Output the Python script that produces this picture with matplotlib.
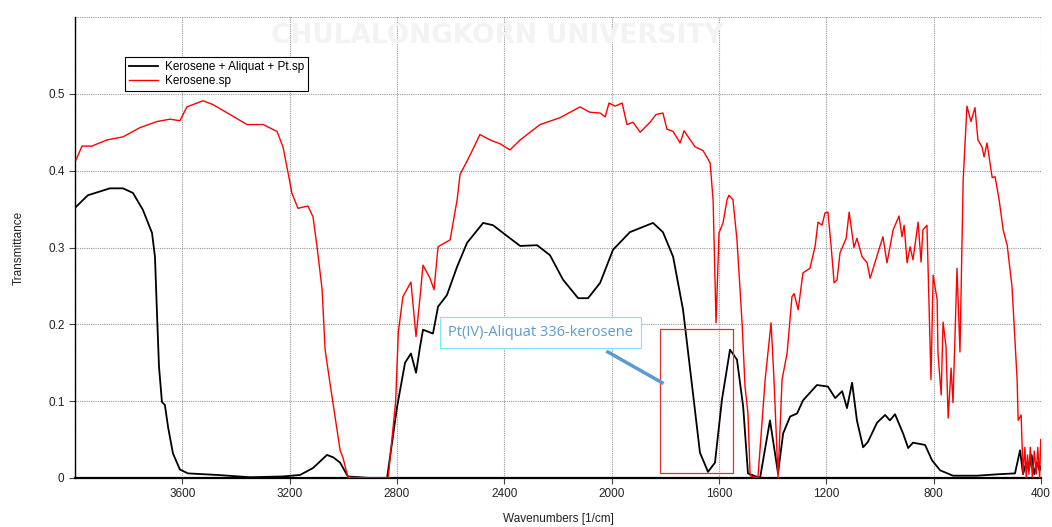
import matplotlib
matplotlib.use("Agg")
import matplotlib.pyplot as plt
from matplotlib.patches import Rectangle

plt.rcParams['font.family'] = ['Liberation Sans', 'DejaVu Sans']

# Kerosene + Aliquat + Pt.sp (black)
wn_black = [3996, 3952, 3870, 3821, 3784, 3747, 3713, 3702, 3694, 3687, 3676, 3665, 3653, 3635,
            3609, 3579, 3471, 3348, 3225, 3161, 3113, 3061, 3038, 3012, 2983, 2900, 2837,
            2800, 2770, 2748, 2729, 2714, 2703, 2666, 2647, 2614, 2576, 2539, 2479, 2442, 2405,
            2341, 2278, 2230, 2181, 2125, 2088, 2043, 1995, 1932, 1846, 1809, 1771, 1734, 1700,
            1671, 1641, 1615, 1589, 1559, 1533, 1510, 1492, 1447, 1410, 1380, 1361, 1335, 1309,
            1287, 1235, 1194, 1167, 1141, 1123, 1104, 1086, 1063, 1045, 1011, 981, 963, 944,
            914, 895, 877, 832, 806, 776, 728, 640, 553, 497, 478, 467, 455, 445, 435, 425,
            415, 405, 400]
t_black = [0.353, 0.368, 0.377, 0.377, 0.371, 0.349, 0.319, 0.288, 0.210, 0.145, 0.099, 0.095,
           0.066, 0.032, 0.011, 0.006, 0.004, 0.001, 0.002, 0.004, 0.013, 0.030, 0.027, 0.020,
           0.002, 0.0, 0.0, 0.092, 0.150, 0.162, 0.137, 0.171, 0.193, 0.188, 0.223, 0.238,
           0.275, 0.306, 0.332, 0.329, 0.319, 0.302, 0.303, 0.290, 0.258, 0.234, 0.234, 0.254,
           0.297, 0.320, 0.332, 0.320, 0.288, 0.219, 0.119, 0.033, 0.008, 0.020, 0.102, 0.167,
           0.154, 0.093, 0.006, 0.0, 0.075, 0.006, 0.058, 0.080, 0.084, 0.101, 0.121, 0.119,
           0.104, 0.113, 0.091, 0.124, 0.075, 0.040, 0.047, 0.072, 0.082, 0.075, 0.083, 0.058,
           0.039, 0.046, 0.043, 0.023, 0.010, 0.003, 0.003, 0.005, 0.006, 0.036, 0.005, 0.020,
           0.010, 0.030, 0.005, 0.020, 0.010, 0.015]

# Kerosene.sp (red)
wn_red = [3996, 3974, 3937, 3881, 3821, 3758, 3694, 3646, 3609, 3583, 3523, 3486, 3422, 3359,
          3299, 3247, 3225, 3203, 3192, 3169, 3132, 3113, 3098, 3079, 3068, 3050, 3031, 3012,
          3001, 2983, 2900, 2833, 2805, 2795, 2778, 2748, 2729, 2714, 2703, 2677, 2662, 2647,
          2602, 2576, 2565, 2528, 2491, 2453, 2416, 2379, 2341, 2267, 2192, 2118, 2081, 2043,
          2024, 2010, 1987, 1961, 1943, 1920, 1894, 1857, 1835, 1809, 1794, 1771, 1745, 1730,
          1715, 1689, 1659, 1633, 1622, 1611, 1600, 1585, 1570, 1563, 1548, 1533, 1514, 1503,
          1492, 1484, 1455, 1428, 1406, 1395, 1380, 1365, 1346, 1328, 1320, 1305, 1287, 1261,
          1242, 1231, 1216, 1205, 1194, 1182, 1171, 1160, 1149, 1126, 1115, 1097, 1086, 1067,
          1048, 1037, 1026, 1007, 989, 974, 951, 929, 918, 910, 899, 888, 877, 858, 847, 840,
          825, 821, 810, 802, 787, 784, 772, 765, 754, 746, 735, 728, 713, 702, 690, 676, 661,
          646, 635, 620, 612, 601, 582, 571, 556, 541, 526, 508, 489, 485, 474, 467, 460, 455,
          450, 445, 440, 432, 425, 418, 412, 405, 401]
t_red = [0.414, 0.432, 0.432, 0.440, 0.444, 0.456, 0.464, 0.467, 0.465, 0.483, 0.491, 0.486,
         0.473, 0.460, 0.460, 0.451, 0.431, 0.392, 0.371, 0.351, 0.354, 0.340, 0.301, 0.245,
         0.167, 0.124, 0.080, 0.036, 0.026, 0.001, 0.0, 0.0, 0.100, 0.190, 0.236, 0.255, 0.184,
         0.236, 0.277, 0.260, 0.245, 0.301, 0.310, 0.362, 0.395, 0.420, 0.447, 0.440, 0.435,
         0.427, 0.440, 0.460, 0.469, 0.483, 0.476, 0.475, 0.470, 0.488, 0.484, 0.488, 0.460,
         0.463, 0.450, 0.463, 0.473, 0.475, 0.454, 0.451, 0.436, 0.452, 0.444, 0.431, 0.426,
         0.410, 0.362, 0.202, 0.319, 0.332, 0.362, 0.368, 0.362, 0.310, 0.202, 0.119, 0.084,
         0.003, 0.0, 0.128, 0.202, 0.128, 0.0, 0.128, 0.163, 0.236, 0.240, 0.219, 0.267, 0.273,
         0.301, 0.333, 0.329, 0.345, 0.346, 0.301, 0.254, 0.258, 0.293, 0.312, 0.346, 0.300,
         0.312, 0.288, 0.280, 0.260, 0.272, 0.294, 0.314, 0.280, 0.323, 0.341, 0.314, 0.329,
         0.280, 0.301, 0.284, 0.333, 0.281, 0.323, 0.329, 0.275, 0.128, 0.264, 0.232, 0.163,
         0.108, 0.203, 0.171, 0.078, 0.143, 0.098, 0.273, 0.164, 0.388, 0.484, 0.464, 0.482,
         0.440, 0.431, 0.418, 0.436, 0.391, 0.392, 0.362, 0.323, 0.303, 0.249, 0.128, 0.075,
         0.082, 0.005, 0.040, 0.0, 0.030, 0.005, 0.040, 0.0, 0.035, 0.005, 0.040, 0.0, 0.050]

x_ticks = [4000, 3600, 3200, 2800, 2400, 2000, 1600, 1200, 800, 400]
x_ticklabels = ['', '3600', '3200', '2800', '2400', '2000', '1600', '1200', '800', '400']
y_ticks = [0, 0.1, 0.2, 0.3, 0.4, 0.5, 0.6]
y_ticklabels = ['0', '0.1', '0.2', '0.3', '0.4', '0.5', '']

fig = plt.figure(figsize=(10.52, 5.27), dpi=100)
ax = fig.add_axes([75/1052, 49/527, 966/1052, 461/527])

ax.plot(wn_black, t_black, color='black', lw=1.3, label='Kerosene + Aliquat + Pt.sp', zorder=3)
ax.plot(wn_red, t_red, color='#ff0000', lw=1.0, label='Kerosene.sp', zorder=3)

ax.set_xlim(4000, 400)
ax.set_ylim(0, 0.6)
ax.set_xticks(x_ticks)
ax.set_xticklabels(x_ticklabels)
ax.set_yticks(y_ticks)
ax.set_yticklabels(y_ticklabels)
ax.tick_params(labelsize=8.5, length=4, color='#444444', labelcolor='#222222')
ax.yaxis.get_major_ticks()[-1].tick1line.set_visible(False)
ax.xaxis.get_major_ticks()[0].tick1line.set_visible(False)
ax.grid(True, color='#999999', linestyle=(0, (1, 1)), linewidth=0.8)
for s in ['top', 'right']:
    ax.spines[s].set_visible(False)
ax.spines['left'].set_linewidth(1.0)
ax.spines['bottom'].set_linewidth(1.6)
ax.set_xlabel('Wavenumbers [1/cm]', fontsize=8.5, color='#222222', labelpad=9)
ax.set_ylabel('Transmittance', fontsize=8.5, color='#222222', labelpad=17)

leg = ax.legend(loc='upper left', bbox_to_anchor=(0.052, 0.913), borderaxespad=0,
                fancybox=False, edgecolor='black', fontsize=8.5, handlelength=2.4,
                borderpad=0.35, labelspacing=0.15, handletextpad=0.6, framealpha=1)
leg.get_frame().set_linewidth(0.8)

# watermark
fig.text(497/1052, 1 - 36/527, 'CHULALONGKORN UNIVERSITY', ha='center', va='center',
         fontsize=19, fontweight='bold', color='#f3f3f3', family=['Liberation Sans Narrow', 'DejaVu Sans'],
         zorder=0)

# annotation
ax.text(2267, 0.189, 'Pt(IV)-Aliquat 336-kerosene', ha='center', va='center', fontsize=10.5,
        color='#5b9bd5', family=['Open Sans', 'DejaVu Sans'],
        bbox=dict(boxstyle='square,pad=0.55', facecolor='white', edgecolor='#7fe8f0', linewidth=0.8),
        zorder=5)
ax.plot([2014, 1812], [0.164, 0.124], color='#5b9bd5', lw=2.5, zorder=5)
ax.add_patch(Rectangle((1820, 0.0065), 1548 - 1820, 0.194 - 0.0065, fill=False,
                       edgecolor='#e03030', linewidth=0.9, zorder=4))

fig.savefig('out.png', dpi=100)
